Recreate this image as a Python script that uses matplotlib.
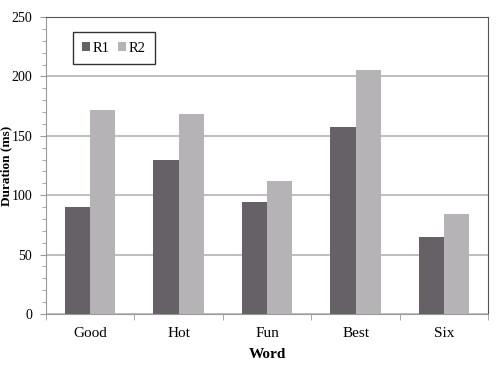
import matplotlib
matplotlib.use('Agg')
from matplotlib import pyplot as plt
import numpy as np

words = ['Good', 'Hot', 'Fun', 'Best', 'Six']
r1 = [90, 130, 94, 157, 65]
r2 = [172, 168, 112, 205, 84]

plt.rcParams['font.family'] = 'Liberation Serif'

fig = plt.figure(figsize=(4.98, 3.67), dpi=100)
ax = fig.add_axes([0.0924, 0.1444, 0.888, 0.8093])

x = np.arange(len(words))
w = 0.285
ax.bar(x - w/2, r1, w, color='#656166', label='R1', zorder=3)
ax.bar(x + w/2, r2, w, color='#b5b3b6', label='R2', zorder=3)

ax.set_xlim(-0.5, len(words) - 0.5)
ax.set_ylim(0, 250)
ax.set_yticks(range(0, 251, 50))
ax.set_yticks(range(0, 251, 10), minor=True)
ax.yaxis.grid(True, color='#b4b4b4', linewidth=1.2, zorder=0)
ax.set_xticks(x)
ax.set_xticklabels(words, fontsize=11)
ax.tick_params(axis='x', length=0, pad=9)
ax.set_xticks(np.arange(-0.5, len(words), 1), minor=True)
ax.tick_params(axis='x', which='minor', length=4, color='#999999')
ax.tick_params(axis='y', which='major', length=4, color='#999999', labelsize=10, pad=6)
ax.tick_params(axis='y', which='minor', length=3, color='#999999')

for s in ['top', 'right']:
    ax.spines[s].set_color('#555555')
for s in ['left', 'bottom']:
    ax.spines[s].set_color('#999999')

ax.set_xlabel('Word', fontweight='bold', fontsize=11)
ax.set_ylabel('Duration (ms)', fontweight='bold', fontsize=9.5)
ax.yaxis.set_label_coords(-0.077, 0.5)
ax.xaxis.set_label_coords(0.5, -0.115)

leg = ax.legend(loc='upper left', bbox_to_anchor=(0.061, 0.949), ncol=2, fancybox=False,
                edgecolor='black', handlelength=0.5, handleheight=0.5,
                handletextpad=0.2, columnspacing=0.6, borderpad=0.65,
                borderaxespad=0, fontsize=10.5)
leg.get_frame().set_linewidth(1.0)

fig.savefig('out.png', dpi=100)
